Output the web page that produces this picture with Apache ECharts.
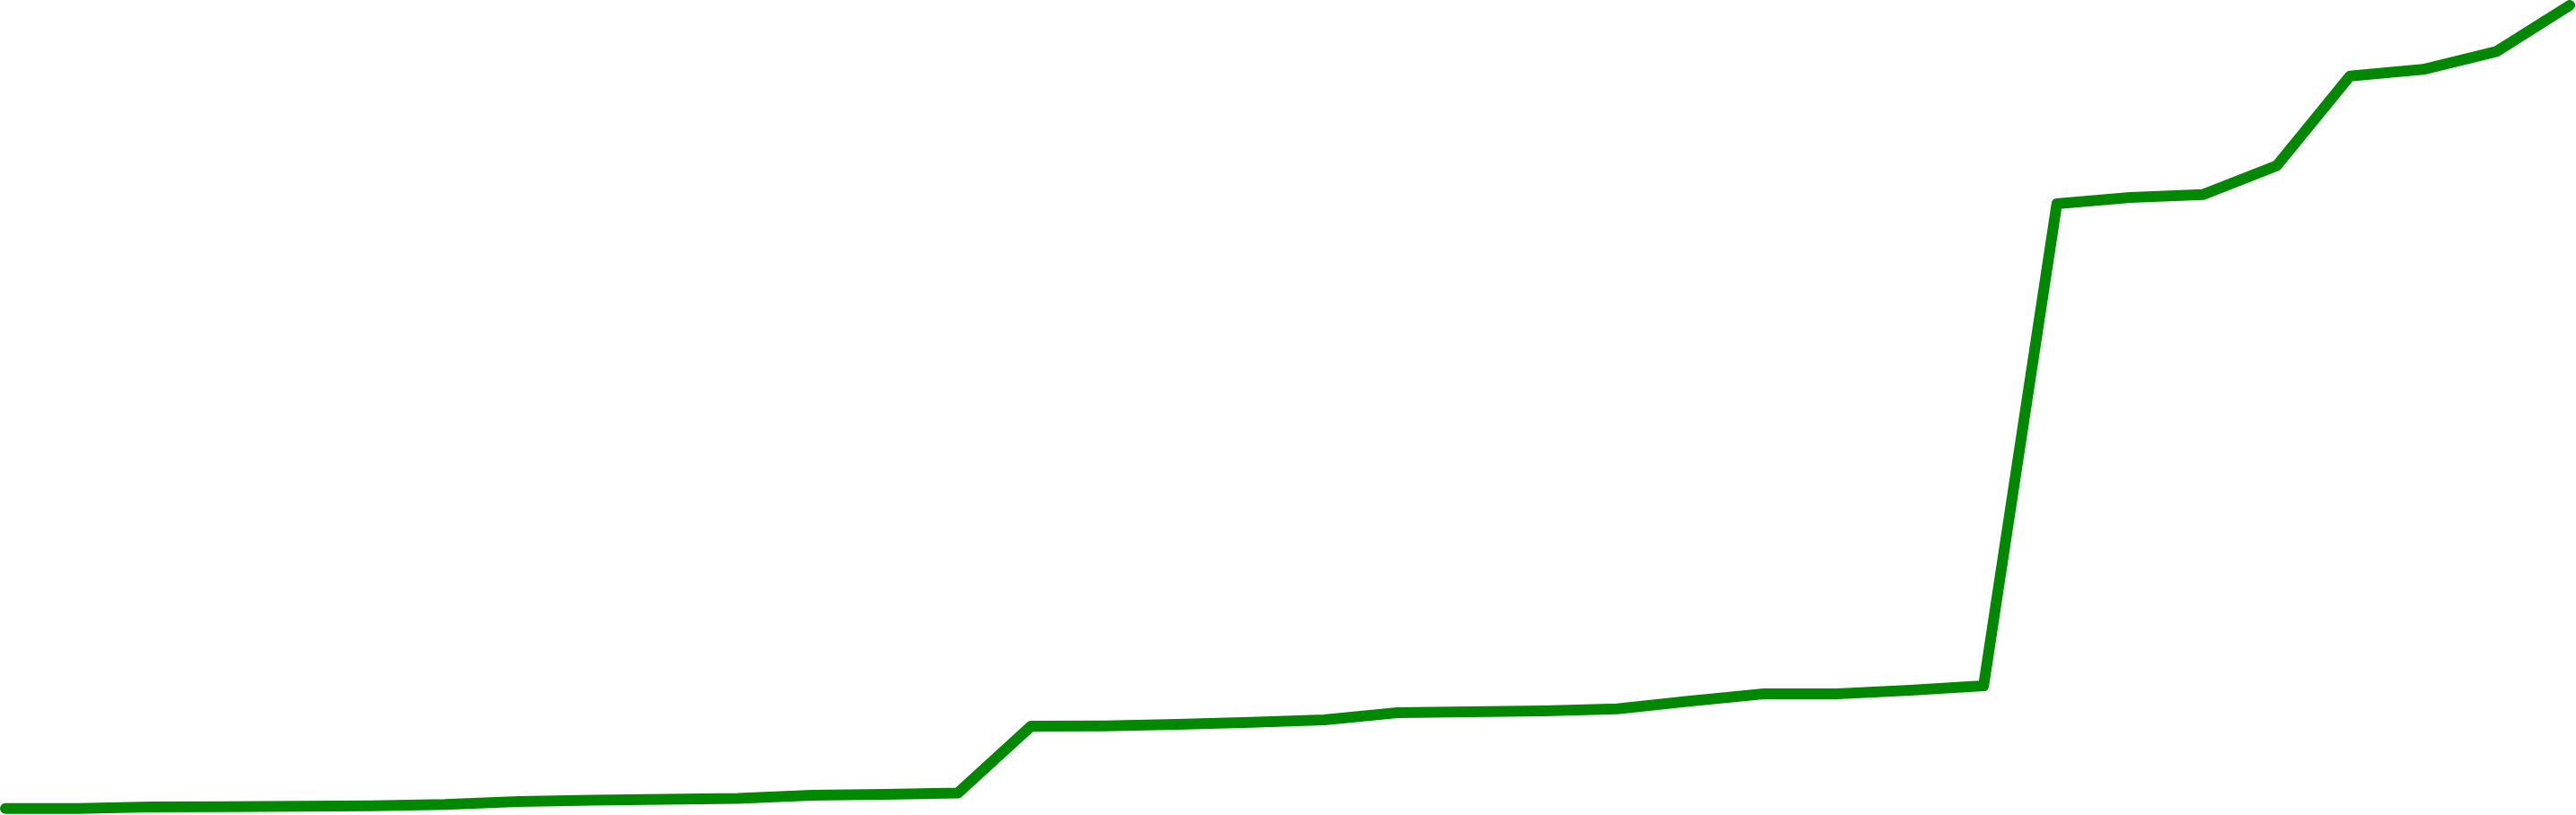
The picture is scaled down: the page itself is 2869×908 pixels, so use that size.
<!DOCTYPE html>
<html>
<head>
<meta charset="utf-8">
<style>
html,body{margin:0;padding:0;background:#ffffff;}
#chart{width:2869px;height:908px;}
</style>
<script src="https://cdn.jsdelivr.net/npm/echarts@6/dist/echarts.min.js"></script>
</head>
<body>
<div id="chart"></div>
<script>
// Categories (36 equally spaced points, no labels shown in the reference)
const categories = [
  'P1','P2','P3','P4','P5','P6','P7','P8','P9','P10','P11','P12',
  'P13','P14','P15','P16','P17','P18','P19','P20','P21','P22','P23','P24',
  'P25','P26','P27','P28','P29','P30','P31','P32','P33','P34','P35','P36'
];
// Series values (arbitrary units)
const values = [
  7.2, 7.3, 9, 9.3, 9.7, 10.3, 11.7, 15, 16.5, 17.5, 18.5, 22,
  23, 24.5, 99, 99.3, 101, 103.3, 106, 114, 115, 116, 118.3, 127,
  135, 135, 139, 144, 681, 688, 691.3, 723.3, 823.3, 830.7, 850.7, 902
];
const yMin = 0;
const yMax = 908;

const chart = echarts.init(document.getElementById('chart'), null, {renderer: 'canvas'});
chart.setOption({
  animation: false,
  backgroundColor: '#ffffff',
  grid: {left: 6, right: 7, top: 0, bottom: 0, containLabel: false},
  xAxis: {
    type: 'category',
    data: categories,
    boundaryGap: false,
    show: false
  },
  yAxis: {
    type: 'value',
    min: yMin,
    max: yMax,
    show: false
  },
  series: [{
    type: 'line',
    data: values,
    symbol: 'none',
    smooth: false,
    lineStyle: {color: '#008800', width: 12, cap: 'round', join: 'round'},
    itemStyle: {color: '#008800'}
  }]
});
</script>
</body>
</html>
